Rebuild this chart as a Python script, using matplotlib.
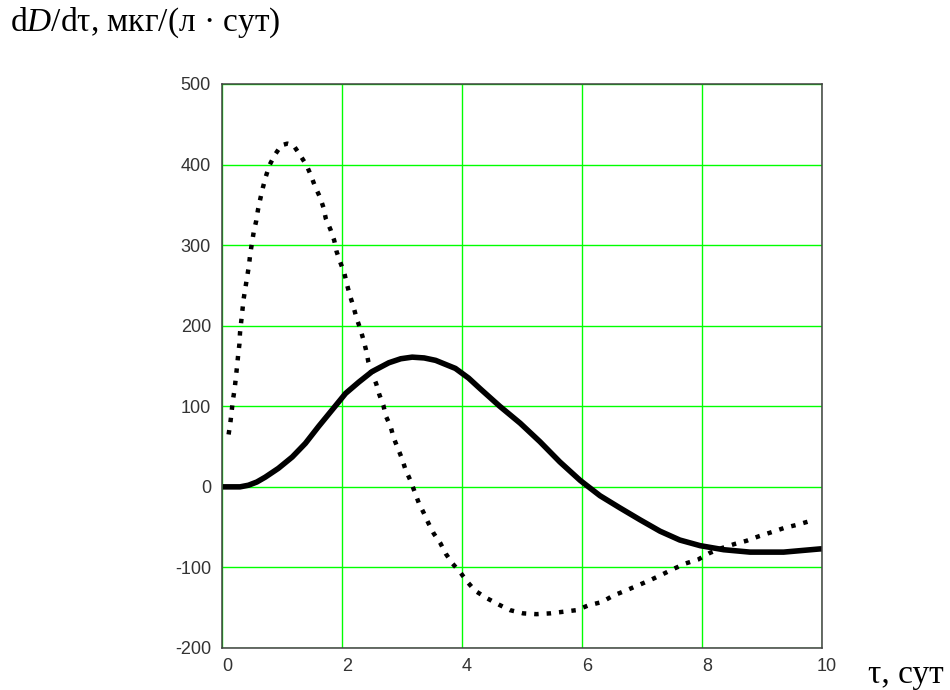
import matplotlib.pyplot as plt
import matplotlib.transforms as mtransforms

plt.rcParams["font.family"] = ["Liberation Sans", "DejaVu Sans"]
plt.rcParams["axes.unicode_minus"] = False
plt.rcParams["mathtext.fontset"] = "custom"
plt.rcParams["mathtext.rm"] = "Liberation Serif"
plt.rcParams["mathtext.it"] = "Liberation Serif:italic"

# dotted curve
tau_dot = [0.11, 0.14, 0.16, 0.18, 0.21, 0.23, 0.25, 0.27, 0.29, 0.30, 0.32,
           0.34, 0.36, 0.39, 0.42, 0.45, 0.47, 0.50, 0.53, 0.57, 0.60, 0.64,
           0.68, 0.73, 0.79, 0.88, 0.99, 1.09, 1.19, 1.30, 1.41, 1.48, 1.55,
           1.63, 1.69, 1.73, 1.81, 1.87, 1.91, 1.97, 2.04, 2.08, 2.13, 2.19,
           2.24, 2.30, 2.36, 2.40, 2.44, 2.50, 2.57, 2.62, 2.69, 2.73, 2.81,
           2.86, 2.93, 3.00, 3.06, 3.14, 3.21, 3.28, 3.36, 3.44, 3.53, 3.64,
           3.73, 3.84, 3.97, 4.09, 4.22, 4.41, 4.61, 4.80, 5.02, 5.24, 5.47,
           5.69, 5.91, 6.11, 6.33, 6.52, 6.72, 6.91, 7.13, 7.33, 7.52, 7.73,
           7.94, 8.13, 8.33, 8.54, 8.74, 8.96, 9.17, 9.37, 9.59, 9.82]
dD_dot = [65, 80, 93, 107, 121, 135, 149, 164, 177, 191, 205,
          219, 233, 247, 261, 275, 289, 303, 317, 330, 344, 358,
          371, 385, 399, 412, 424, 426, 424, 412, 399, 387, 373,
          360, 347, 333, 319, 306, 292, 279, 265, 252, 238, 224,
          210, 197, 182, 170, 155, 141, 128, 115, 101, 88, 75,
          61, 48, 35, 21, 8, -6, -20, -32, -45, -58, -70,
          -83, -95, -106, -118, -129, -138, -146, -153, -157, -158, -157,
          -155, -153, -147, -143, -135, -129, -123, -116, -109, -102, -95,
          -90, -82, -76, -71, -67, -61, -56, -51, -47, -42]

# solid curve
tau_sol = [0.06, 0.30, 0.44, 0.58, 0.72, 0.94, 1.17, 1.39, 1.61, 1.83, 2.06,
           2.28, 2.50, 2.78, 2.98, 3.17, 3.37, 3.56, 3.89, 4.11, 4.30, 4.63,
           4.97, 5.30, 5.63, 5.97, 6.30, 6.63, 6.97, 7.30, 7.63, 7.97, 8.36,
           8.80, 9.36, 9.97, 10.0]
dD_sol = [0, 0, 2, 6, 12, 23, 37, 54, 75, 95, 116,
          130, 143, 154, 159, 161, 160, 157, 147, 135, 122, 100,
          79, 56, 31, 8, -11, -26, -41, -55, -66, -73, -78,
          -81, -81, -77, -77]

x_ticks = [0, 2, 4, 6, 8, 10]
y_ticks = [-200, -100, 0, 100, 200, 300, 400, 500]

fig = plt.figure(figsize=(9.5, 6.9), dpi=100)
ax = fig.add_axes([222 / 950, 42 / 690, 600 / 950, 564 / 690])

ax.plot(tau_sol, dD_sol, color="black", lw=4.0, solid_joinstyle="round")
ax.plot(tau_dot, dD_dot, color="black", lw=3.2, linestyle=(0, (1, 1.8)))

ax.set_xlim(0, 10)
ax.set_ylim(-200, 500)
ax.set_xticks(x_ticks)
ax.set_yticks(y_ticks)
ax.grid(True, color="#00ff00", lw=1.0)
ax.set_axisbelow(True)
for s in ax.spines.values():
    s.set_color("#404040")
    s.set_linewidth(1.1)
ax.tick_params(length=0, labelsize=13, labelcolor="#333333")
ax.tick_params(axis="x", pad=7)
ax.tick_params(axis="y", pad=8)

# x labels sit a little to the right of the grid lines
shift = mtransforms.ScaledTranslation(5 / 100, 0, fig.dpi_scale_trans)
for lab in ax.get_xticklabels():
    lab.set_transform(lab.get_transform() + shift)

fig.text(10 / 950, 1 - 6 / 690, "d$\\mathit{D}$/dτ, мкг/(л · сут)",
         fontsize=24, family="Liberation Serif", va="top", ha="left")
fig.text(868 / 950, 7 / 690, "τ, сут", fontsize=24,
         family="Liberation Serif", va="baseline", ha="left")

plt.savefig("out.png", dpi=100)
